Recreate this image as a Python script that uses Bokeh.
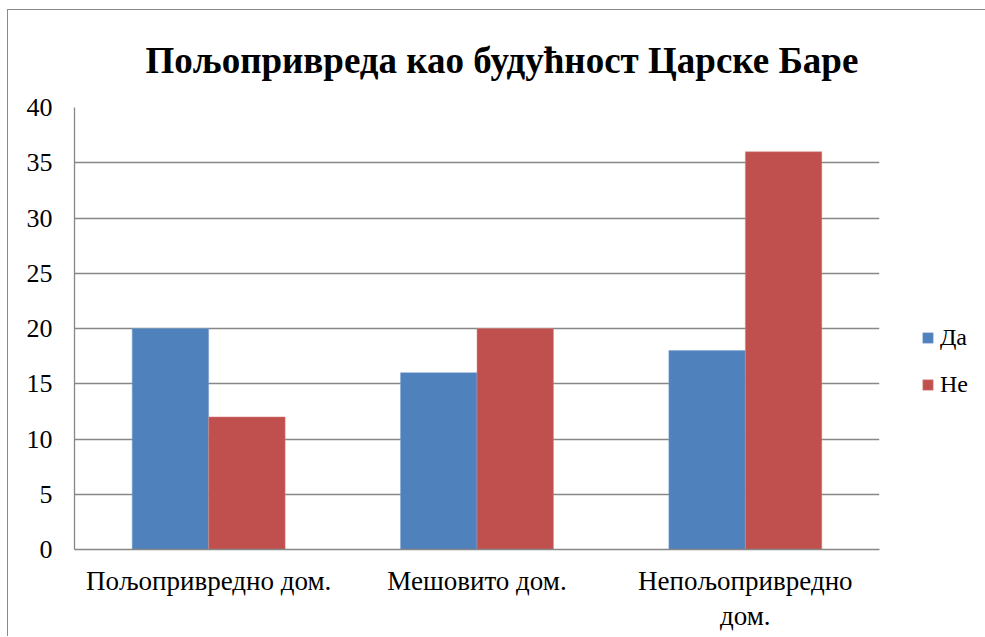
from bokeh.plotting import figure
from bokeh.models import (ColumnDataSource, FactorRange, Legend, LegendItem, Title,
                          CategoricalAxis, CustomJSTickFormatter)
from bokeh.transform import dodge
from bokeh.embed import file_html
from bokeh.resources import INLINE

title_text = "Пољопривреда као будућност Царске Баре"
categories = ["Пољопривредно дом.", "Мешовито дом.", "Непољопривредно дом."]
label_line1 = ["Пољопривредно дом.", "Мешовито дом.", "Непољопривредно"]
label_line2 = ["", "", "дом."]
da_values = [20, 16, 18]
ne_values = [12, 20, 36]
series_names = ["Да", "Не"]
y_ticks = [0, 5, 10, 15, 20, 25, 30, 35, 40]

BLUE = "#4F81BD"
RED = "#C0504D"
GRID = "#878787"
FONT = "Liberation Serif"

source = ColumnDataSource(dict(cat=categories, da=da_values, ne=ne_values))

p = figure(
    x_range=FactorRange(*categories, range_padding=0),
    y_range=(0, 40),
    frame_width=805, frame_height=442,
    min_border_left=66, min_border_right=104,
    min_border_top=97, min_border_bottom=87,
    output_backend="svg", toolbar_location=None,
)
p.styles = {"border-top": "1px solid #8a8a8a", "border-left": "1px solid #8a8a8a",
            "border-right": "1px solid #8a8a8a", "margin-left": "7px", "margin-top": "9px"}
p.outline_line_color = None
p.background_fill_color = "white"

r_da = p.vbar(x=dodge("cat", -0.1425, range=p.x_range), top="da", width=0.285,
              source=source, fill_color=BLUE, line_color="#7fa2d0", line_width=0.5)
r_ne = p.vbar(x=dodge("cat", 0.1425, range=p.x_range), top="ne", width=0.285,
              source=source, fill_color=RED, line_color="#d88a88", line_width=0.5)

# grid
p.xgrid.grid_line_color = None
p.ygrid.grid_line_color = GRID
p.ygrid.grid_line_width = 1.3
p.yaxis.ticker = y_ticks

# second line of category labels
ax2 = CategoricalAxis(axis_line_color=None, major_label_standoff=2)
p.add_layout(ax2, "below")

# axes
for ax in (p.xaxis[0], p.yaxis[0], ax2):
    ax.major_tick_in = 0
    ax.major_tick_out = 0
    ax.minor_tick_in = 0
    ax.minor_tick_out = 0
    ax.major_label_text_font = FONT
    ax.major_label_text_color = "black"
p.xaxis[0].axis_line_color = GRID
p.yaxis[0].axis_line_color = GRID
p.xaxis[0].axis_line_width = 1.3
p.yaxis[0].axis_line_width = 1.3
ax2.axis_line_color = None

p.yaxis.major_label_text_font = FONT
p.yaxis.major_label_text_font_size = "26px"
p.yaxis.major_label_standoff = 22
p.xaxis.major_label_text_font_size = "27px"
p.xaxis[0].major_label_standoff = 16

fmt_code = "const i = cats.indexOf(tick); return i >= 0 ? lines[i] : tick;"
p.xaxis[0].formatter = CustomJSTickFormatter(args=dict(cats=categories, lines=label_line1),
                                             code=fmt_code)
ax2.formatter = CustomJSTickFormatter(args=dict(cats=categories, lines=label_line2),
                                      code=fmt_code)

# title
p.add_layout(Title(text=title_text, text_font=FONT, text_font_style="bold",
                   text_font_size="37px", align="left", standoff=53, offset=71,
                   text_color="black"), "above")

# legend
legend = Legend(
    items=[LegendItem(label=series_names[0], renderers=[r_da]),
           LegendItem(label=series_names[1], renderers=[r_ne])],
    location=(42, 151),
    orientation="vertical",
    glyph_width=13, glyph_height=13, label_height=26, label_standoff=6,
    spacing=20, padding=0, margin=0,
    label_text_font=FONT, label_text_font_size="24px", label_text_color="black",
    border_line_color=None, background_fill_alpha=0,
)
p.add_layout(legend, "right")

open("out.html", "w").write(file_html(p, INLINE))
